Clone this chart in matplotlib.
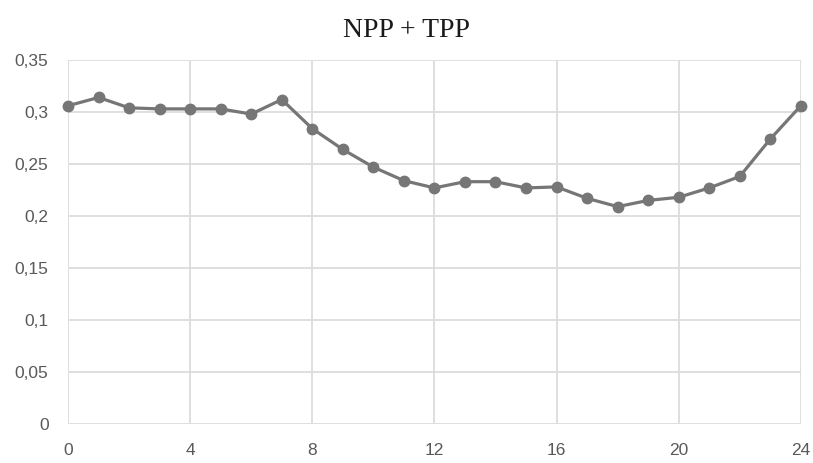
import matplotlib
matplotlib.use("Agg")
import matplotlib.pyplot as plt
from matplotlib.ticker import FuncFormatter

hours = list(range(25))
values = [0.306, 0.314, 0.304, 0.303, 0.303, 0.303, 0.298, 0.312, 0.284, 0.264,
          0.247, 0.234, 0.227, 0.233, 0.233, 0.227, 0.228, 0.217, 0.209, 0.215,
          0.218, 0.227, 0.238, 0.274, 0.306]
x_ticks = [0, 4, 8, 12, 16, 20, 24]
y_ticks = [0, 0.05, 0.1, 0.15, 0.2, 0.25, 0.3, 0.35]
title = "NPP + TPP"

fig = plt.figure(figsize=(8.13, 4.63), dpi=100)
ax = fig.add_axes([0.0837, 0.0842, 0.9013, 0.7862])

ax.plot(hours, values, color="#767676", linewidth=2.3, marker="o",
        markersize=7.5, markerfacecolor="#767676", markeredgecolor="#767676",
        zorder=3, clip_on=False)

ax.set_xlim(0, 24)
ax.set_ylim(0, 0.35)
ax.set_xticks(x_ticks)
ax.set_yticks(y_ticks)

def yfmt(v, pos):
    s = ("%.2f" % v).rstrip("0").rstrip(".")
    return s.replace(".", ",")

ax.yaxis.set_major_formatter(FuncFormatter(yfmt))
ax.xaxis.set_major_formatter(FuncFormatter(lambda v, p: "%d" % v))

ax.grid(True, color="#dcdcdc", linewidth=1.3)
ax.set_axisbelow(True)
for s in ax.spines.values():
    s.set_visible(False)
ax.tick_params(length=0, labelsize=12.5, labelcolor="#595959")
ax.tick_params(axis="y", pad=14)
ax.tick_params(axis="x", pad=14)
for lab in ax.get_xticklabels() + ax.get_yticklabels():
    lab.set_fontfamily(["Liberation Sans", "DejaVu Sans"])

fig.text(0.5, 0.935, title, ha="center", va="center", fontsize=20,
         family=["Liberation Serif", "DejaVu Serif"], color="#1a1a1a")

fig.savefig("out.png", dpi=100, facecolor="white")
